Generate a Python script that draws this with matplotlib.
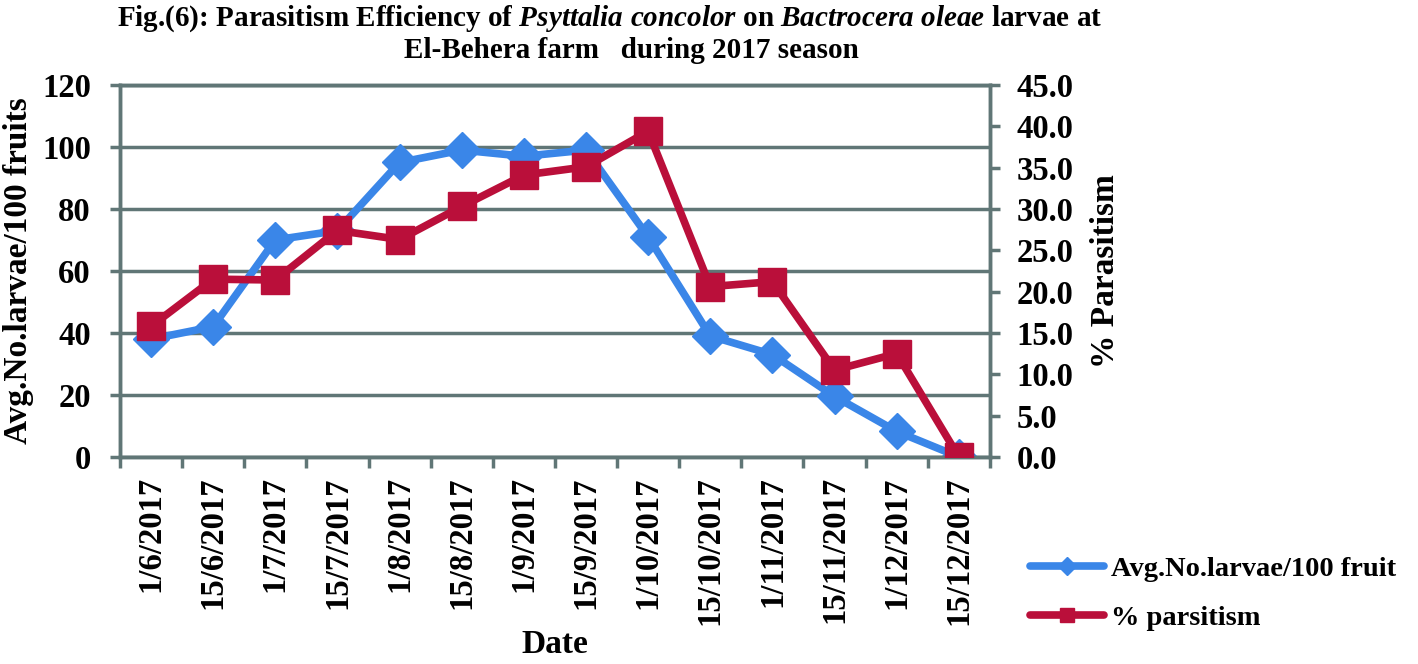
import matplotlib
matplotlib.use("Agg")
import matplotlib.pyplot as plt
from matplotlib.ticker import MultipleLocator, FormatStrFormatter

dates = ["1/6/2017", "15/6/2017", "1/7/2017", "15/7/2017", "1/8/2017", "15/8/2017",
         "1/9/2017", "15/9/2017", "1/10/2017", "15/10/2017", "1/11/2017", "15/11/2017",
         "1/12/2017", "15/12/2017"]
larvae = [38, 42, 70, 73, 95, 99, 97, 99, 71, 39, 33, 19.5, 8.2, 0]
parasitism = [15.8, 21.5, 21.4, 27.4, 26.3, 30.3, 34.1, 35.1, 39.4, 20.6, 21.2, 10.5, 12.5, 0]

BLUE = "#3a86e8"
RED = "#ba0f3a"
GRID = "#607676"

plt.rcParams["font.family"] = ["Liberation Serif", "DejaVu Serif"]
plt.rcParams["font.weight"] = "bold"
plt.rcParams["mathtext.fontset"] = "custom"
plt.rcParams["mathtext.rm"] = "Liberation Serif:bold"
plt.rcParams["mathtext.it"] = "Liberation Serif:italic:bold"

fig = plt.figure(figsize=(14.18, 6.64), dpi=100)
ax = fig.add_axes([0.0846, 0.312, 0.6135, 0.560])
ax2 = ax.twinx()

x = list(range(len(dates)))
l1, = ax.plot(x, larvae, color=BLUE, lw=5.5, marker="D", ms=18,
              solid_capstyle="round", label="Avg.No.larvae/100 fruit", zorder=3)
l2, = ax2.plot(x, parasitism, color=RED, lw=5.5, marker="s", ms=20,
               solid_capstyle="round", label="% parsitism", zorder=4)
ax.set_zorder(ax2.get_zorder() - 1)
ax.patch.set_visible(True)
ax2.patch.set_visible(False)

ax.set_xlim(-0.5, len(dates) - 0.5)
ax.set_ylim(0, 120)
ax2.set_ylim(0, 45)
ax.yaxis.set_major_locator(MultipleLocator(20))
ax2.yaxis.set_major_locator(MultipleLocator(5))
ax2.yaxis.set_major_formatter(FormatStrFormatter("%.1f"))

ax.set_xticks(x)
ax.set_xticklabels(dates, rotation=90, fontsize=23.5, fontweight="bold")
ax.set_xticks([i - 0.5 for i in range(len(dates) + 1)], minor=True)
ax.tick_params(axis="x", which="major", length=0, pad=14)
ax.tick_params(axis="x", which="minor", length=8, width=2.5, color=GRID)
ax.tick_params(axis="y", length=7, width=2.5, color=GRID, labelsize=23.5, pad=14)
ax2.tick_params(axis="y", length=7, width=2.5, color=GRID, labelsize=23.5, pad=12)
for lab in ax.get_yticklabels() + ax2.get_yticklabels():
    lab.set_fontweight("bold")

ax.grid(axis="y", color=GRID, lw=2.5)
for a in (ax, ax2):
    for s in a.spines.values():
        s.set_color(GRID)
        s.set_linewidth(2.5)

ax.set_ylabel("Avg.No.larvae/100 fruits", fontsize=24, fontweight="bold", labelpad=6)
ax2.set_ylabel("% Parasitism", fontsize=24, fontweight="bold", labelpad=12)
ax.set_xlabel("Date", fontsize=24, fontweight="bold", labelpad=3)

fig.text(0.43, 0.972,
         r"Fig.(6): Parasitism Efficiency of $\mathit{Psyttalia\ concolor}$ on "
         r"$\mathit{Bactrocera\ oleae}$ larvae at",
         ha="center", va="center", fontsize=21, fontweight="bold")
fig.text(0.445, 0.924, "El-Behera farm   during 2017 season",
         ha="center", va="center", fontsize=21, fontweight="bold")

fig.legend(handles=[l1, l2], loc="center left", bbox_to_anchor=(0.718, 0.106),
           frameon=False, prop={"size": 20.5, "weight": "bold"}, borderaxespad=0,
           handlelength=2.6, labelspacing=0.8, markerscale=0.5, handletextpad=0.25)

fig.savefig("out.png", dpi=100)
